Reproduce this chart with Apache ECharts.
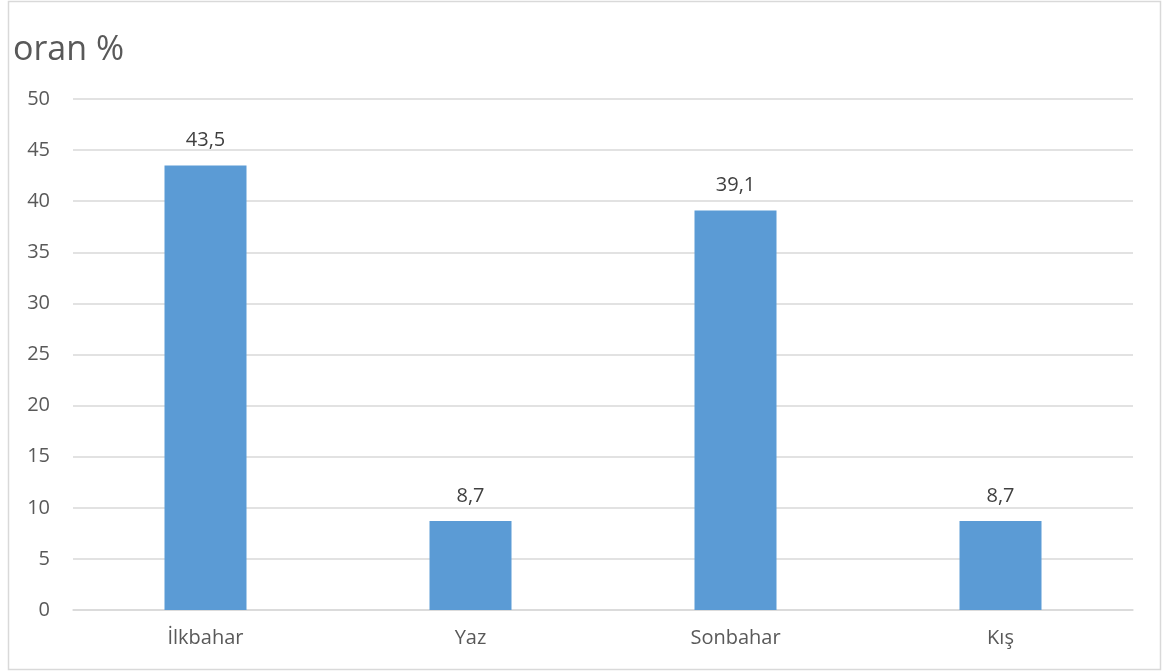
<!DOCTYPE html>
<html><head><meta charset="utf-8">
<script src="https://cdn.jsdelivr.net/npm/echarts@6/dist/echarts.min.js"></script>
<style>html,body{margin:0;padding:0;background:#fff}#c{width:1164px;height:672px}</style>
</head><body><div id="c"></div>
<script>
const categories = ['İlkbahar', 'Yaz', 'Sonbahar', 'Kış'];
const values = [43.5, 8.7, 39.1, 8.7];
const yTicks = [0, 5, 10, 15, 20, 25, 30, 35, 40, 45, 50];
const titleText = 'oran %';

const chart = echarts.init(document.getElementById('c'));
const font = 'Open Sans';
chart.setOption({
  animation: false,
  textStyle: { fontFamily: font },
  graphic: [{ type: 'rect', shape: { x: 8.5, y: 1.5, width: 1152, height: 668 }, style: { fill: 'none', stroke: '#d9d9d9', lineWidth: 1.5 }, silent: true }],
  title: { text: titleText, left: 8, top: 28, textStyle: { fontFamily: font, fontSize: 34, fontWeight: 'normal', color: '#595959' } },
  grid: { left: 73, right: 31, top: 99, bottom: 62, containLabel: false },
  xAxis: {
    type: 'category', data: categories,
    axisLine: { lineStyle: { color: '#d9d9d9', width: 1.5 } },
    axisTick: { show: false },
    axisLabel: { color: '#595959', fontSize: 20, margin: 18, fontFamily: font }
  },
  yAxis: {
    type: 'value', min: yTicks[0], max: yTicks[yTicks.length - 1], interval: yTicks[1] - yTicks[0],
    axisLine: { show: false }, axisTick: { show: false },
    splitLine: { lineStyle: { color: '#d9d9d9', width: 1.5 } },
    axisLabel: { color: '#595959', fontSize: 20, margin: 23, fontFamily: font }
  },
  series: [{
    type: 'bar', data: values, barWidth: 82,
    itemStyle: { color: '#5b9bd5' },
    label: { show: true, position: 'top', distance: 15, color: '#404040', fontSize: 20, fontFamily: font,
      formatter: p => String(p.value).replace('.', ',') }
  }]
});
</script></body></html>
